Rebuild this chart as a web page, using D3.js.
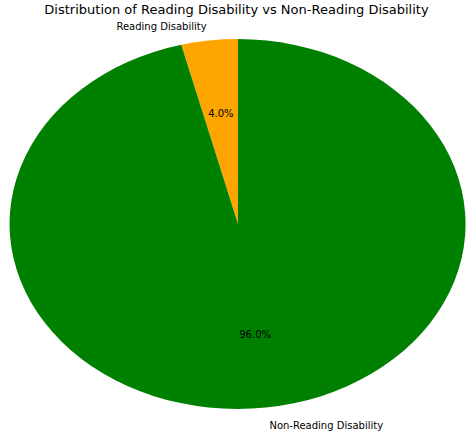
<!DOCTYPE html>
<html><head><meta charset="utf-8">
<script src="https://cdn.jsdelivr.net/npm/d3@7"></script>
<style>body{margin:0;background:#fff}text{font-family:"DejaVu Sans",sans-serif;fill:#000}</style>
</head><body><div id="chart"></div>
<script>
const labels = ["Reading Disability", "Non-Reading Disability"];
const values = [4.0, 96.0];
const colors = ["#ffa500", "#008000"];

const W = 473, H = 438;
const cx = 238, cy = 224, rx = 228, ry = 185;

const svg = d3.select("#chart").append("svg").attr("width", W).attr("height", H);

svg.append("text").attr("x", W/2).attr("y", 14).attr("text-anchor", "middle")
  .style("font-size", "13px").text("Distribution of Reading Disability vs Non-Reading Disability");

// counterclockwise from 12 o'clock like matplotlib startangle=90
const pie = d3.pie().sort(null).startAngle(0).endAngle(-2*Math.PI);
const arcs = pie(values);
const arc = d3.arc().innerRadius(0).outerRadius(1);

const g = svg.append("g").attr("transform", `translate(${cx},${cy}) scale(${rx},${ry})`);
g.selectAll("path").data(arcs).enter().append("path")
  .attr("d", arc).attr("fill", (d,i) => colors[i]);

arcs.forEach((d, i) => {
  const a = (d.startAngle + d.endAngle) / 2;
  const px = cx + Math.sin(a) * rx * 0.6, py = cy - Math.cos(a) * ry * 0.6;
  svg.append("text").attr("x", px).attr("y", py).attr("text-anchor", "middle")
    .attr("dy", "0.35em").style("font-size", "10px").text(d3.format(".1f")(values[i]) + "%");
  const lx = cx + Math.sin(a) * rx * 1.1, ly = cy - Math.cos(a) * ry * 1.1 + (i === 0 ? 4 : 0);
  svg.append("text").attr("x", lx).attr("y", ly)
    .attr("text-anchor", Math.sin(a) < 0 ? "end" : "start")
    .attr("dy", "0.35em").style("font-size", "10px").text(labels[i]);
});
</script></body></html>
